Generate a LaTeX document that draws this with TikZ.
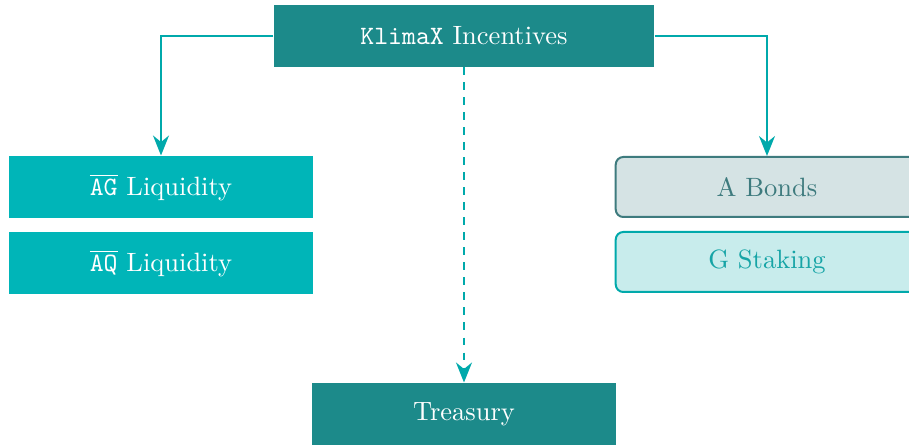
\documentclass[tikz,border=0pt]{standalone}
\usepackage{tikz}
\usetikzlibrary{arrows.meta}

\definecolor{klimadark}{HTML}{1C8A8A}
\definecolor{klimacyan}{HTML}{00B5B8}
\definecolor{klimaline}{HTML}{00A9AB}
\definecolor{bondline}{HTML}{3E7B7E}
\definecolor{bondfill}{HTML}{D5E3E4}
\definecolor{stakefill}{HTML}{C8ECEC}
\definecolor{staketext}{HTML}{16A4A6}

\tikzset{
	darkbox/.style={fill=klimadark, text=white, minimum height=24.8pt},
	liqbox/.style={fill=klimacyan, text=white, minimum width=121.6pt, minimum height=24.8pt},
	bondbox/.style={draw=bondline, fill=bondfill, text=bondline, line width=0.8pt, rounded corners=3pt, minimum width=121pt, minimum height=24pt},
	stakebox/.style={draw=klimaline, fill=stakefill, text=staketext, line width=0.8pt, rounded corners=3pt, minimum width=121pt, minimum height=24pt},
	flow/.style={draw=klimaline, line width=0.8pt, -{Stealth[length=8pt,width=6.4pt]}}
}

\begin{document}
\begin{tikzpicture}[x=0.4pt,y=-0.4pt, font=\fontsize{10.6}{13}\selectfont]
	\useasboundingbox (0,0) rectangle (909,445);
	\node[darkbox, minimum width=152pt] (incent) at (464,36) {\texttt{KlimaX} Incentives};
	\node[liqbox] (ag) at (161,187) {$\overline{\texttt{AG}}$ Liquidity};
	\node[liqbox] (aq) at (161,263) {$\overline{\texttt{AQ}}$ Liquidity};
	\node[bondbox] (bonds) at (767,187) {A Bonds};
	\node[stakebox] (stake) at (767,262) {G Staking};
	\node[darkbox, minimum width=121.6pt] (treas) at (464,414) {Treasury};
	\draw[flow] (incent.west) -| (ag.north);
	\draw[flow] (incent.east) -| (bonds.north);
	\draw[flow, dashed] (incent.south) -- (treas.north);
\end{tikzpicture}
\end{document}
